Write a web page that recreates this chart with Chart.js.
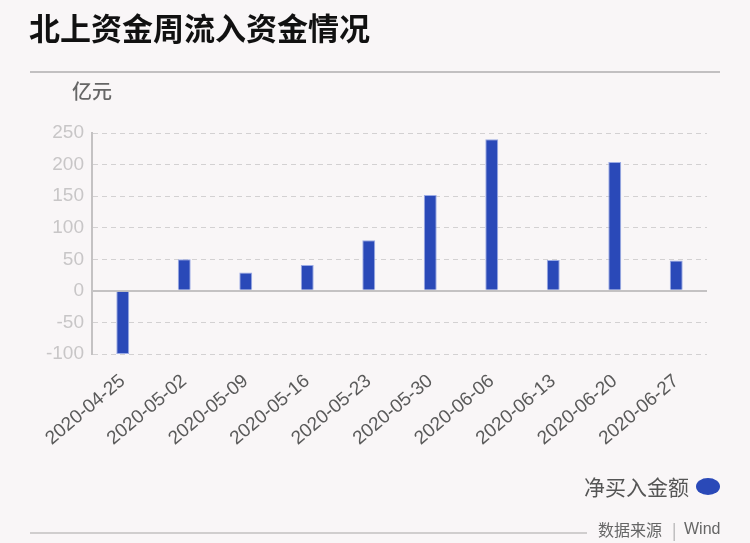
<!DOCTYPE html>
<html lang="zh">
<head>
    <meta charset="utf-8" />
    <title>北上资金周流入资金情况</title>
    <script src="https://cdn.jsdelivr.net/npm/chart.js"></script>
    <style>
        html, body { margin: 0; padding: 0; background: #f9f6f7; }
        #wrap { position: relative; width: 750px; height: 543px; }
    </style>
</head>
<body>
    <div id="wrap"><canvas id="flowChart" width="750" height="543"></canvas></div>
    <script>
        const weeks = ['2020-04-25', '2020-05-02', '2020-05-09', '2020-05-16', '2020-05-23',
                       '2020-05-30', '2020-06-06', '2020-06-13', '2020-06-20', '2020-06-27'];
        const netBuy = [-100, 50, 29, 41, 80, 152, 240, 49, 204, 48];
        const yTicks = [-100, -50, 0, 50, 100, 150, 200, 250];

        const CJK = '"Noto Sans CJK SC", "Liberation Sans", sans-serif';
        const LATIN = '"Liberation Sans", Arial, sans-serif';

        // background, title, unit, legend and source line
        const decorations = {
            id: 'decorations',
            beforeDraw(chart) {
                const ctx = chart.ctx;
                ctx.save();
                ctx.fillStyle = '#f9f6f7';
                ctx.fillRect(0, 0, chart.width, chart.height);
                ctx.restore();
            },
            afterDraw(chart) {
                const ctx = chart.ctx;
                ctx.save();
                ctx.textBaseline = 'middle';

                ctx.fillStyle = '#111';
                ctx.font = 'bold 31px ' + CJK;
                ctx.textAlign = 'left';
                ctx.fillText('北上资金周流入资金情况', 29, 28);

                ctx.strokeStyle = '#c2c0c1';
                ctx.lineWidth = 2;
                ctx.beginPath();
                ctx.moveTo(30, 72);
                ctx.lineTo(720, 72);
                ctx.stroke();

                ctx.fillStyle = '#666';
                ctx.font = '500 20px ' + CJK;
                ctx.fillText('亿元', 72, 91);

                // legend
                ctx.textAlign = 'right';
                ctx.fillStyle = '#555';
                ctx.font = '21px ' + CJK;
                ctx.fillText('净买入金额', 689, 487);
                ctx.fillStyle = '#2a49b8';
                ctx.beginPath();
                ctx.ellipse(708, 486.5, 12, 8.5, 0, 0, Math.PI * 2);
                ctx.fill();

                // source
                ctx.strokeStyle = '#c2c0c1';
                ctx.lineWidth = 1.5;
                ctx.beginPath();
                ctx.moveTo(30, 533);
                ctx.lineTo(587, 533);
                ctx.stroke();

                ctx.textAlign = 'left';
                ctx.fillStyle = '#666';
                ctx.font = '16px ' + CJK;
                ctx.fillText('数据来源', 598, 530);
                ctx.fillStyle = '#aaa';
                ctx.fillText('|', 672, 530);
                ctx.fillStyle = '#666';
                ctx.font = '16px ' + LATIN;
                ctx.fillText('Wind', 684, 530);
                ctx.restore();
            }
        };

        new Chart(document.getElementById('flowChart'), {
            type: 'bar',
            data: {
                labels: weeks,
                datasets: [{
                    label: '净买入金额',
                    data: netBuy,
                    backgroundColor: '#2a49b8',
                    borderColor: 'rgba(150, 166, 228, 0.95)',
                    borderWidth: 1,
                    barPercentage: 0.21,
                    categoryPercentage: 1
                }]
            },
            options: {
                responsive: false,
                animation: false,
                layout: { padding: { top: 133, right: 43, bottom: 0, left: 0 } },
                plugins: {
                    legend: { display: false },
                    tooltip: { enabled: false }
                },
                scales: {
                    x: {
                        grid: { display: false },
                        border: { display: false },
                        ticks: {
                            color: '#5a5a5a',
                            font: { family: LATIN, size: 19 },
                            minRotation: 40,
                            maxRotation: 40,
                            padding: 8
                        },
                        afterFit(scale) { scale.height = 189; }
                    },
                    y: {
                        min: -100,
                        max: 250,
                        afterBuildTicks(scale) { scale.ticks = yTicks.map(v => ({ value: v })); },
                        grid: {
                            drawTicks: false,
                            color: c => c.tick && c.tick.value === 0 ? '#c4c2c3' : '#d3d1d2',
                            lineWidth: c => c.tick && c.tick.value === 0 ? 2 : 1
                        },
                        border: {
                            display: true,
                            color: '#c4c2c3',
                            width: 2,
                            dash: c => c.tick && c.tick.value === 0 ? [] : [5, 4]
                        },
                        ticks: {
                            color: '#c8c6c7',
                            font: { family: LATIN, size: 19 },
                            padding: 8
                        },
                        afterFit(scale) { scale.width = 92; }
                    }
                }
            },
            plugins: [decorations]
        });
    </script>
</body>
</html>
